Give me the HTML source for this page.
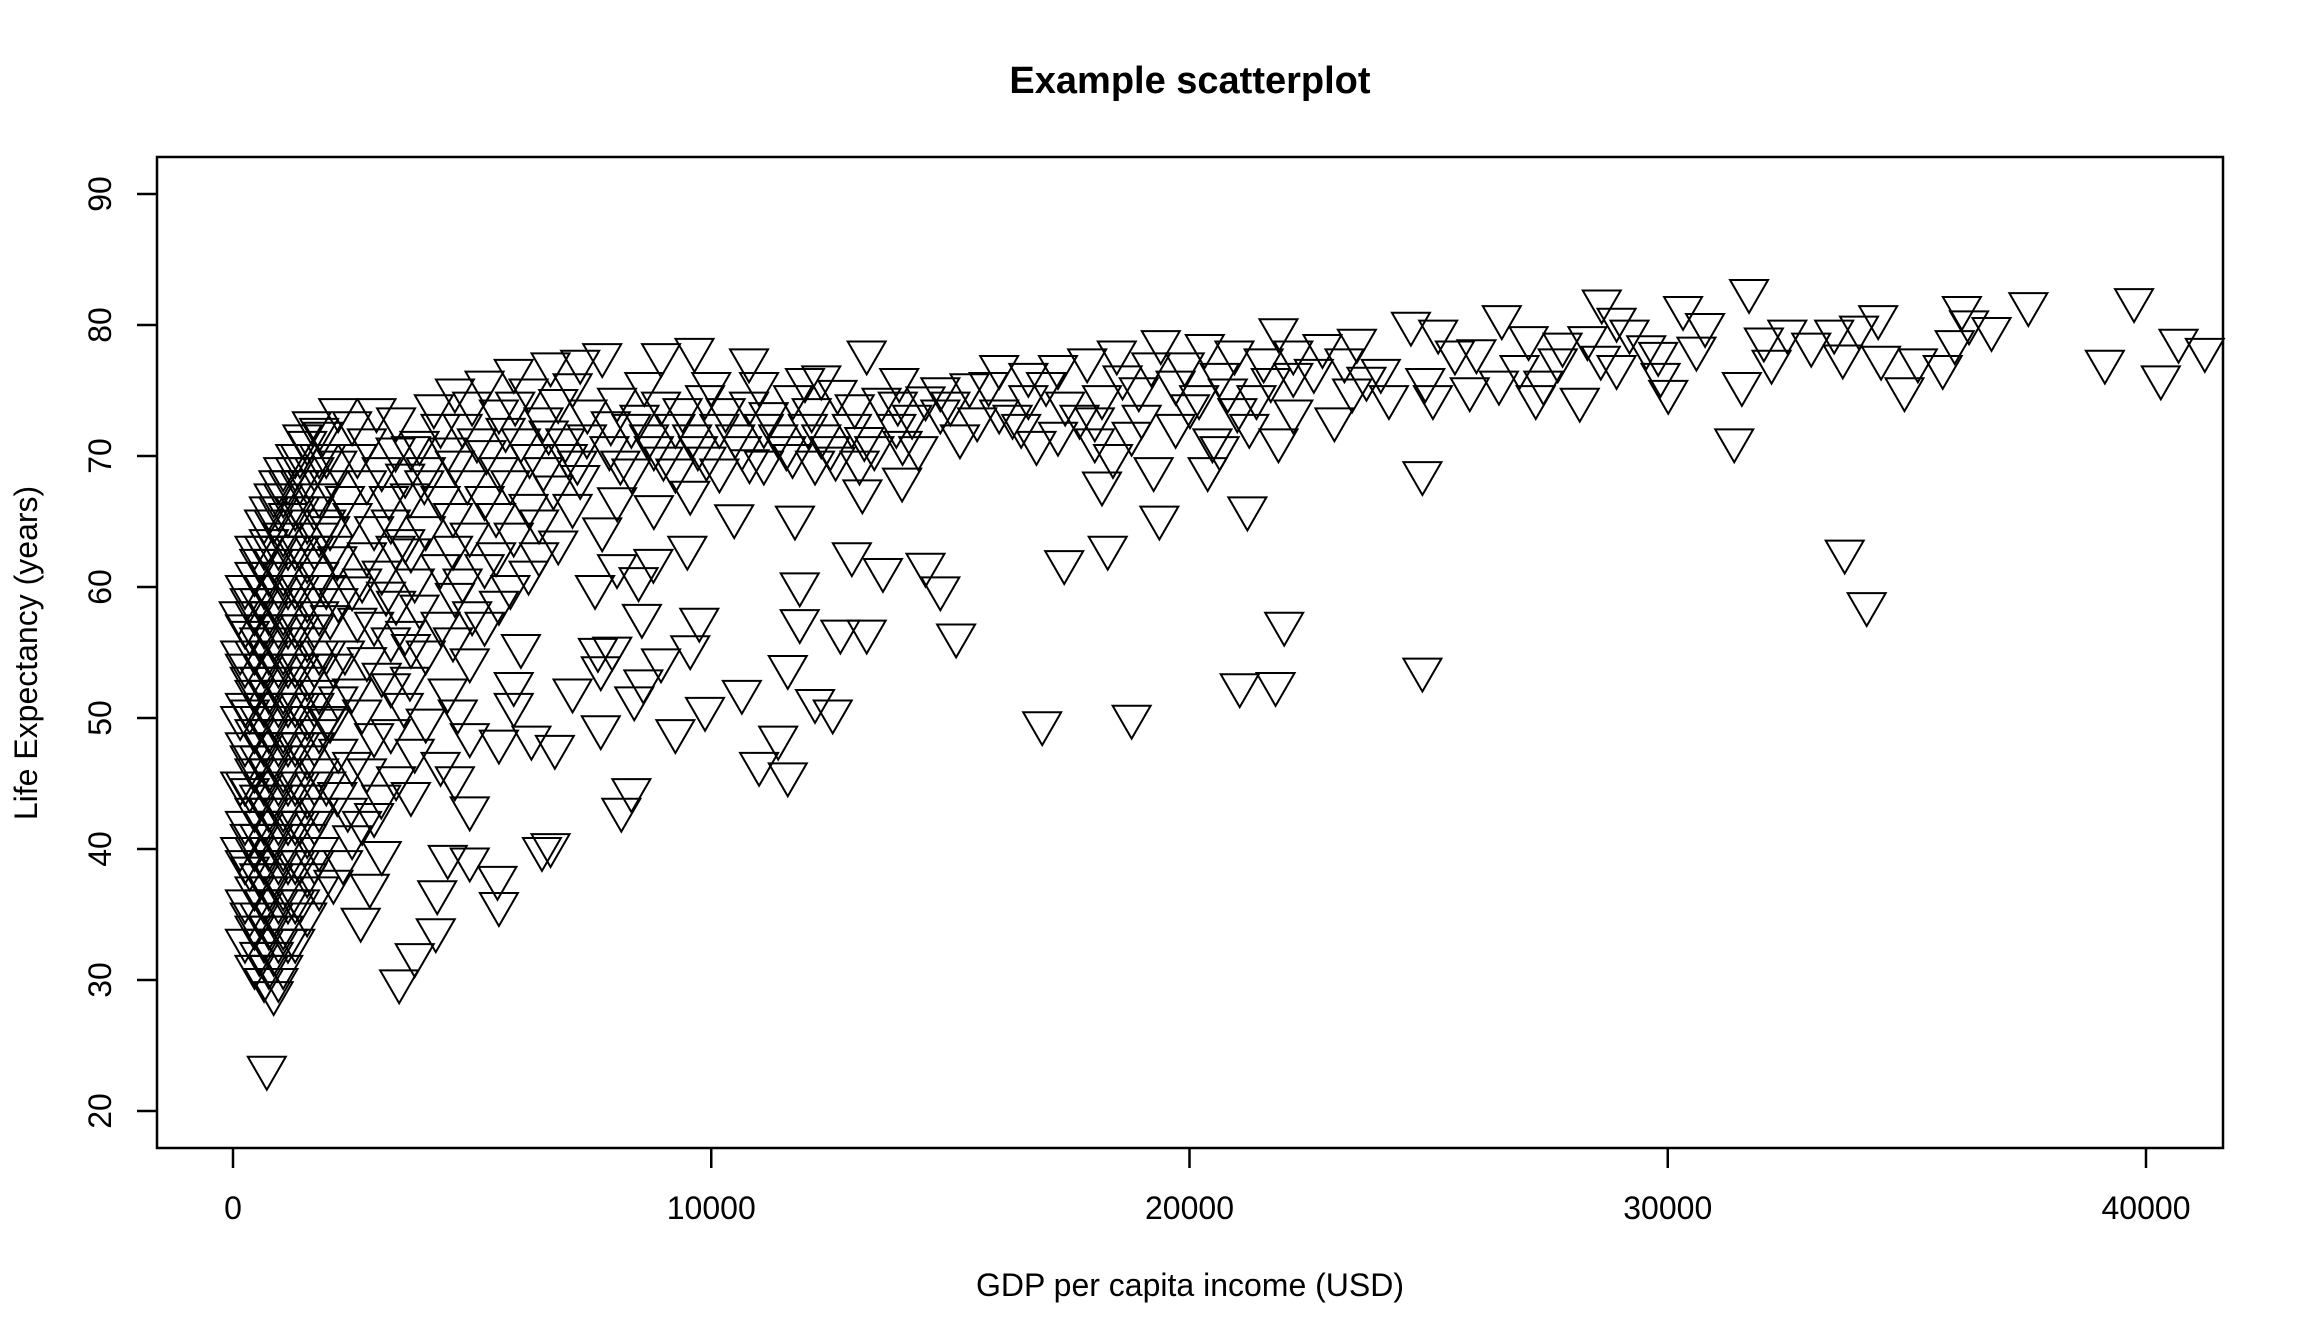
<!DOCTYPE html>
<html><head><meta charset="utf-8"><title>Example scatterplot</title>
<style>html,body{margin:0;padding:0;background:#fff}svg{display:block}</style></head>
<body>
<svg id="chart" width="2304" height="1344" viewBox="0 0 2304 1344" xmlns="http://www.w3.org/2000/svg" font-family="'Liberation Sans', Arial, sans-serif">
<text x="1190" y="93" font-size="38" font-weight="bold" text-anchor="middle">Example scatterplot</text>
<text x="1190" y="1296" font-size="32" text-anchor="middle">GDP per capita income (USD)</text>
<text transform="translate(37,653) rotate(-90)" font-size="32" text-anchor="middle">Life Expectancy (years)</text>
<g id="points"></g>
<g id="xaxis"></g>
<g id="yaxis"></g>
<rect x="157" y="157" width="2066" height="991" fill="none" stroke="#000" stroke-width="2.5"/>
</svg>
<script>
const xTicks = [0, 10000, 20000, 30000, 40000];
const yTicks = [20, 30, 40, 50, 60, 70, 80, 90];
const observations = [
[707,23.3],[3474,29.9],[3800,31.9],[4240,33.8],[4270,36.7],[4490,39.4],[4950,39.2],[5530,37.8],[5560,35.8],[2670,34.6],[2860,37.2],
[6460,40],[6640,40.3],[6730,47.8],[6240,48.5],[7100,52.1],[7690,49.3],[7690,53.8],[7630,55.2],[7930,55.3],[8120,43],[8330,44.5],[8390,51.5],[8580,52.8],[8950,54.4],[8550,57.8],[8480,60.6],[8790,62],
[9250,49],[9870,50.7],[9560,55.4],[9750,57.5],[9500,63],[10640,52],[11000,46.5],[11400,48.5],[11600,45.7],[11600,53.9],[11850,60.2],[11850,57.4],[12170,51.3],[12540,50.5],[12700,56.6],[12940,62.5],[13250,56.6],[13590,61.3],[14480,61.7],[14790,59.9],[15120,56.3],[11750,65.3],[10480,65.4],[13160,67.3],[13990,68.2],
[16920,49.6],[17380,61.9],[18290,63],[18790,50.1],[19370,65.3],[20380,69],[21210,66],[21050,52.5],[21800,52.6],[21980,57.2],[24870,53.7],[24870,68.7],[31390,71.2],[33700,62.7],[34160,58.7],
[31700,82.6],[28620,81.8],[30320,81.3],[30780,80],[32010,78.9],[32170,77.2],[31550,75.5],[33480,79.5],[33660,77.6],[34400,80.6],[34460,77.5],[34950,75.1],[35230,77.3],[35750,76.8],[36150,81.3],[36000,78.7],[36770,79.7],[37540,81.6],[39140,77.2],[39750,81.9],[40310,76],[40680,78.8],[41230,78.1],
[26530,80.6],[27090,79],[27240,74.5],[28160,74.3],[28930,76.8],[29550,78.3],[29850,76.2],[30010,74.9],[28930,80.4],[27700,77.3],[26470,75.6],[25550,77.9],[24630,80.1],[24170,74.5],[23030,72.8],[22170,76.2],[21860,79.6],[22780,78.4],[23240,77.3],[23700,75.9],[24930,75.8],[25090,74.5],[25860,75.1],[27400,75.6],[28320,79],
[26000,78],[27800,78.5],[29200,79.5],[30600,78.2],[25200,79.5],[23500,78.8],[26900,76.8],[28600,77.5],[29800,77.8],[32500,79.5],[34000,79.8],[33000,78.5],[36300,80.2],
[20320,78.4],[19400,78.7],[18480,77.9],[17860,77.3],[17250,76.8],[16630,76.2],[16020,76.8],[15400,75.4],[14790,75.1],[20630,76.2],[19710,75.6],[18940,75.1],[18170,74.5],[17400,74],[16630,74.5],[16020,73.4],[18020,72.8],[18790,71.7],[19710,72.3],[20480,71.2],[21250,72.3],[21860,71.2],[21400,74.5],[22170,73.4],[18020,71.2],[17250,71.7],[16480,72.3],[15560,72.8],[14790,73.4],[19250,69],[18170,67.9],[20630,70.6],[20010,73.8],[21550,77.3],[20940,77.9],[22170,77.9],
[15000,74],[15800,75.5],[16300,73],[17000,75.5],[17700,73],[18600,76],[19200,77],[19900,77],[20800,75],[21700,75.8],[22600,76.5],[23400,75],[24000,76.5],[14200,73],[15200,71.5],[16800,71],[18400,70],[19000,73],[20200,74.5],[21000,73.5],
[7720,77.7],[8950,77.7],[9650,78.1],[10790,77.3],[11960,75.8],[13250,77.9],[13930,75.8],[14480,74.4],[13560,74.3],[12640,74.9],[11710,74.5],[10790,74],[9870,74.5],[8950,74],[8030,74.3],[7410,73.4],[8330,72.3],[9250,72.3],[10170,72.3],[11100,72.3],[12020,72.3],[12940,72.3],[13870,72.3],[14330,70.6],[13410,70.6],[12490,70.6],[11570,70.6],[10640,70.6],[9720,70.6],[8800,70.6],[7870,70.6],[8330,68.9],[9250,68.9],[10170,68.9],[11100,69.5],[12170,69.5],[13100,69.5],[8030,66.7],[8800,66.1],[9560,67.2],[7720,64.4],[8030,61.6],[7570,60],
[8500,73],[9400,73.5],[10300,73.5],[11200,73.2],[12100,73.5],[13000,73.8],[13900,74],[8700,71.5],[9600,71.5],[10500,71.5],[11400,71.5],[12300,71.5],[13200,71.3],[14000,71],[8100,69.5],[9000,69.8],[9900,69.8],[10800,69.6],[11700,70],[12600,69.8],[7900,72.5],[7400,71.5],[7200,69.5],[10000,75.5],[11000,75.5],[12300,76],[8600,75.5],
[5870,76.5],[6640,77],[7260,77.2],[5260,75.6],[6180,75],[7100,75.4],[4640,75],[5560,73.4],[6490,72.8],[4340,72.3],[5100,71.2],[6020,71.2],[6950,71.2],[4640,69.5],[5560,69],[6490,69],[7260,68.4],[4340,66.8],[5260,66.8],[6180,66.2],[7100,66.2],[4030,64.5],[4950,64],[5870,64],[6800,63.4],[4340,61.6],[5260,61.6],[6180,61.1],[4640,59.4],[5560,58.8],[6020,55.5],[4340,57.2],[5260,57.2],[4030,55],[4950,54.4],[5870,52.6],[5870,51],[4490,52.1],[4030,49.8],[4950,48.7],[5560,48.2],[4340,46.5],[4640,45.4],[4950,43.1],
[5000,74],[5900,74],[6800,74.2],[4200,73.8],[4800,72.3],[5700,72],[6600,71.8],[3900,71],[4500,70.5],[5300,70.3],[6200,70],[7000,70],[4000,68],[4900,68],[5800,68],[6700,67.6],[3700,67],[4600,65.5],[5500,65.5],[6400,65],[3600,63.5],[4600,63],[5500,62.5],[6400,62.5],[3800,60.5],[4800,60.5],[5800,60],[3900,58.5],[5000,58],[3600,56.5],[4600,56],[3700,53],[4700,50.5],[3800,47.5],
[2490,72.5],[3410,72.8],[1880,71.7],[2800,71.2],[3720,70.6],[2180,69.5],[3110,69],[4030,69],[2340,66.8],[3260,66.8],[2030,64.5],[2950,64.5],[3720,62.8],[2180,62.2],[3110,61.1],[2490,59.9],[3410,58.8],[2030,57.7],[2950,57.2],[3720,55.5],[2340,55],[3110,53.3],[2490,52.1],[3570,51],[2030,49.8],[2950,48.7],[2490,46.5],[3410,45.4],[2180,44.2],[2950,42.6],[2490,40.9],[3110,39.7],[3720,44.2],
[2200,73.5],[3000,73.5],[2600,70],[3400,70.5],[2000,68],[2800,68],[3600,68.5],[2500,65.5],[3300,65],[2100,63],[2800,62.5],[3400,63],[2700,60.5],[2200,59],[3200,59.5],[2600,57.5],[3300,56],[2100,54],[2800,54.5],[3300,52.5],[2200,51.5],[2700,50.5],[3300,49],[2200,47.5],[2800,46],[3100,44],[2400,43],[2700,42],[2300,39],[2100,37.5],
[250,33],[250,36],[250,39],[250,42],[250,45],[250,48],[250,51],[250,54],[250,57],[250,60],
[450,31],[450,34],[450,37],[450,40],[450,43],[450,46],[450,49],[450,52],[450,55],[450,58],[450,61],[450,63],
[650,30],[650,33],[650,36],[650,39],[650,42],[650,45],[650,48],[650,51],[650,54],[650,57],[650,60],[650,63],[650,65],
[850,29],[850,32],[850,35],[850,38],[850,41],[850,44],[850,47],[850,50],[850,53],[850,56],[850,59],[850,62],[850,65],[850,67],
[1050,31],[1050,34],[1050,37],[1050,40],[1050,43],[1050,46],[1050,49],[1050,52],[1050,55],[1050,58],[1050,61],[1050,64],[1050,67],[1050,69],
[1300,33],[1300,36],[1300,39],[1300,42],[1300,45],[1300,48],[1300,51],[1300,54],[1300,57],[1300,60],[1300,63],[1300,66],[1300,69],[1300,70],
[1550,35],[1550,38],[1550,41],[1550,44],[1550,47],[1550,50],[1550,53],[1550,56],[1550,59],[1550,62],[1550,65],[1550,68],[1550,71],
[1800,37],[1800,40],[1800,43],[1800,46],[1800,49],[1800,52],[1800,55],[1800,58],[1800,61],[1800,64],[1800,67],[1800,70],[1800,72],
[350,35],[350,41],[350,47],[350,53],[350,59],[550,32],[550,38],[550,44],[550,50],[550,56],[550,62],
[750,31],[750,37],[750,43],[750,49],[750,55],[750,61],[750,66],[950,30],[950,36],[950,42],[950,48],[950,54],[950,60],[950,66],[950,68],
[1150,33],[1150,39],[1150,45],[1150,51],[1150,57],[1150,63],[1150,68],[1400,36],[1400,42],[1400,48],[1400,54],[1400,60],[1400,66],[1400,70],
[1700,39],[1700,45],[1700,51],[1700,57],[1700,63],[1700,69],
[350,38.5],[350,44.5],[350,50.5],[350,56.5],[550,35],[550,41],[550,47],[550,53],[550,59],[750,34],[750,40],[750,46],[750,52],[750,58],[750,63.5],
[950,33],[950,39],[950,45],[950,51],[950,57],[950,63],[1150,36],[1150,42],[1150,48],[1150,54],[1150,60],[1150,65.5],[1400,39],[1400,45],[1400,51],[1400,57],[1400,63],[1400,68],
[1700,42],[1700,48],[1700,54],[1700,60],[1700,66],[1950,45],[1950,50],[1950,55],[1950,60],[1950,65],[1950,70],[1650,72.5],[1450,71.5],[150,45],[150,50],[150,55],[150,40],[120,58]
];
const NS = 'http://www.w3.org/2000/svg';
const X0 = 233, X1 = 2146, Y0 = 1111, Y1 = 194;
function xScale(v){ return X0 + (v - 0) / 40000 * (X1 - X0); }
function yScale(v){ return Y0 - (v - 20) / 70 * (Y0 - Y1); }
const pts = document.getElementById('points');
const s = 14.1;
observations.forEach(function(o){
  const cx = xScale(o[0]), cy = yScale(o[1]);
  const p = document.createElementNS(NS, 'polygon');
  const top = cy - 0.7776 * s, bot = cy + 1.5551 * s, hw = 1.3468 * s;
  p.setAttribute('points', (cx-hw)+','+top+' '+(cx+hw)+','+top+' '+cx+','+bot);
  p.setAttribute('fill', 'none');
  p.setAttribute('stroke', '#000');
  p.setAttribute('stroke-width', '2');
  
  
  pts.appendChild(p);
});
const xa = document.getElementById('xaxis');
xTicks.forEach(function(t){
  const x = xScale(t);
  const l = document.createElementNS(NS, 'line');
  l.setAttribute('x1', x); l.setAttribute('x2', x);
  l.setAttribute('y1', 1148); l.setAttribute('y2', 1168);
  l.setAttribute('stroke', '#000'); l.setAttribute('stroke-width', '2.5');
  
  
  xa.appendChild(l);
  const tx = document.createElementNS(NS, 'text');
  tx.setAttribute('x', x); tx.setAttribute('y', 1219);
  tx.setAttribute('font-size', '32'); tx.setAttribute('text-anchor', 'middle');
  tx.textContent = String(t);
  
  
  xa.appendChild(tx);
});
const ya = document.getElementById('yaxis');
yTicks.forEach(function(t){
  const y = yScale(t);
  const l = document.createElementNS(NS, 'line');
  l.setAttribute('x1', 137); l.setAttribute('x2', 157);
  l.setAttribute('y1', y); l.setAttribute('y2', y);
  l.setAttribute('stroke', '#000'); l.setAttribute('stroke-width', '2.5');
  
  
  ya.appendChild(l);
  const tx = document.createElementNS(NS, 'text');
  tx.setAttribute('transform', 'translate(111,' + y + ') rotate(-90)');
  tx.setAttribute('font-size', '32'); tx.setAttribute('text-anchor', 'middle');
  tx.textContent = String(t);
  
  
  ya.appendChild(tx);
});
</script>
</body></html>
